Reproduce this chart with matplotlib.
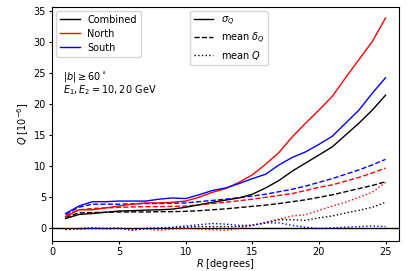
import numpy as np
import matplotlib
matplotlib.use('Agg')
from matplotlib import pyplot as plt
from matplotlib.lines import Line2D

plt.rcParams['font.size'] = 7
plt.rcParams['mathtext.fontset'] = 'dejavusans'

R = list(range(1, 26))

# sigma_Q
sig_comb = [1.6, 2.25, 2.4, 2.6, 2.8, 2.85, 2.95, 3.0, 3.1, 3.4, 3.8, 4.2, 4.55, 4.9, 5.5,
            6.5, 7.7, 9.2, 10.5, 11.8, 13.1, 15.0, 16.9, 19.0, 21.4]
sig_north = [1.9, 3.0, 3.0, 3.3, 3.6, 3.9, 4.1, 4.1, 4.2, 4.4, 5.0, 5.8, 6.4, 7.4, 8.6,
             10.3, 12.2, 14.7, 16.9, 19.0, 21.2, 24.2, 27.1, 30.0, 33.8]
sig_south = [2.4, 3.6, 4.3, 4.3, 4.4, 4.4, 4.4, 4.7, 4.9, 4.8, 5.4, 6.1, 6.5, 7.2, 8.0,
             8.7, 10.2, 11.4, 12.3, 13.5, 14.8, 16.9, 19.0, 21.7, 24.2]

# mean delta_Q
dq_comb = [1.8, 2.5, 2.55, 2.6, 2.65, 2.65, 2.65, 2.7, 2.7, 2.75, 2.85, 3.0, 3.15, 3.35, 3.55,
           3.75, 4.0, 4.3, 4.6, 5.0, 5.4, 5.9, 6.4, 6.9, 7.5]
dq_north = [2.1, 3.0, 3.2, 3.3, 3.4, 3.45, 3.5, 3.5, 3.55, 3.6, 3.8, 4.0, 4.2, 4.45, 4.7,
            5.0, 5.3, 5.6, 6.1, 6.6, 7.0, 7.6, 8.2, 8.9, 9.7]
dq_south = [2.3, 3.4, 3.9, 3.9, 3.9, 3.95, 4.0, 4.0, 4.05, 4.1, 4.3, 4.5, 4.7, 4.95, 5.2,
            5.5, 5.9, 6.3, 6.8, 7.4, 8.0, 8.7, 9.4, 10.2, 11.1]

# mean Q
mq_comb = [-0.1, -0.05, 0.05, 0.0, 0.05, -0.1, 0.0, 0.0, 0.1, 0.2, 0.3, 0.3, 0.3, 0.3, 0.5,
           0.9, 1.4, 1.4, 1.3, 1.7, 2.0, 2.5, 2.9, 3.4, 4.2]
mq_north = [-0.1, 0.0, 0.15, -0.1, 0.05, -0.2, -0.1, -0.3, -0.1, 0.0, -0.1, -0.2, -0.3, 0.0, 0.5,
            1.0, 1.5, 2.0, 2.2, 2.9, 3.6, 4.2, 5.0, 5.8, 7.4]
mq_south = [-0.2, -0.1, 0.0, 0.0, 0.0, -0.3, 0.0, 0.1, 0.2, 0.4, 0.6, 0.8, 0.7, 0.5, 0.5,
            0.9, 0.9, 0.5, 0.2, 0.0, 0.1, 0.2, 0.3, 0.4, 0.3]

fig = plt.figure(figsize=(4.07, 2.71), dpi=100)
ax = fig.add_axes([0.1285, 0.111, 0.8515, 0.864])

ax.axhline(0, color='k', lw=1.0)

for dq, mq, c in [(dq_comb, mq_comb, 'k'),
                  (dq_north, mq_north, 'r'),
                  (dq_south, mq_south, 'b')]:
    ax.plot(R, dq, color=c, ls='--', lw=1.0)
    ax.plot(R, mq, color=c, ls=':', lw=1.0)
for sig, c in [(sig_comb, 'k'), (sig_north, 'r'), (sig_south, 'b')]:
    ax.plot(R, sig, color=c, lw=1.0)

ax.set_xlim(0, 26)
ax.set_ylim(-2, 35.6)
ax.set_xticks([0, 5, 10, 15, 20, 25])
ax.set_yticks([0, 5, 10, 15, 20, 25, 30, 35])
ax.set_xlabel(r'$R$ [degrees]', labelpad=0)
ax.set_ylabel(r'$Q$ [$10^{-6}$]', labelpad=2)
ax.tick_params(length=2.5, pad=2)

h1 = [Line2D([], [], color=c, lw=1.0) for c in ['k', 'r', 'b']]
leg1 = ax.legend(h1, ['Combined', 'North', 'South'], loc='upper left',
                 borderaxespad=0.4, handlelength=2.0, labelspacing=0.42)
ax.add_artist(leg1)
h2 = [Line2D([], [], color='k', lw=1.0, ls=s) for s in ['-', '--', ':']]
ax.legend(h2, [r'$\sigma_Q$', r'mean $\delta_Q$', r'mean $Q$'],
          loc='upper left', bbox_to_anchor=(0.385, 1.0), borderaxespad=0.4,
          handlelength=2.0, labelspacing=0.3)

ax.text(0.03, 0.699, r'$|b| \geq 60^\circ$', transform=ax.transAxes,
        va='center', ha='left')
ax.text(0.03, 0.643, r'$E_1, E_2 = 10, 20$ GeV', transform=ax.transAxes,
        va='center', ha='left')

fig.savefig('out.png', dpi=100)
